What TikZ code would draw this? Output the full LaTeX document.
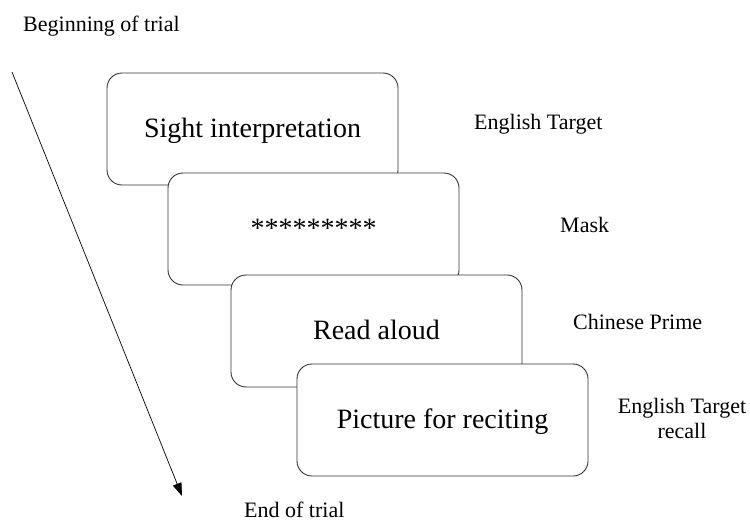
\documentclass[tikz,border=0pt]{standalone}
\usepackage{fontspec}
\setmainfont{Liberation Serif}
\usetikzlibrary{arrows.meta,shapes}
\tikzstyle{screen} = [draw=black!80, line width=0.9pt, fill=white, rounded corners=15pt, minimum width=291pt, minimum height=112pt, text height=20pt, text depth=4pt, inner sep=0pt, font=\fontsize{28}{32}\selectfont]
\tikzstyle{caption} = [inner sep=0pt, font=\fontsize{22}{25}\selectfont]
\tikzstyle{timeline} = [draw, line width=0.7pt, -{Triangle[length=13pt, width=9pt]}]

\begin{document}
\begin{tikzpicture}[x=1pt, y=-1pt]
    \useasboundingbox (0,0) rectangle (750,522);
    % Draw the trial screens.
    \node [screen] (sight) at (252.5, 129) {Sight interpretation};
    \node [screen] (mask)  at (313.5, 229) {*********};
    \node [screen] (read)  at (376.5, 331) {Read aloud};
    \node [screen] (pict)  at (442.5, 420) {Picture for reciting};
    % Captions beside the screens.
    \node [caption, anchor=base west] (target) at (474, 129) {English Target};
    \node [caption, anchor=base west] (masktxt) at (560, 232) {Mask};
    \node [caption, anchor=base west] (prime) at (573, 329) {Chinese Prime};
    \node [caption, anchor=north, align=center] (recall) at (682, 398) {English Target\\recall};
    % Time runs down the left side.
    \node [caption, anchor=base west] (begin) at (23, 31) {Beginning of trial};
    \node [caption, anchor=base west] (end) at (244, 517) {End of trial};
    \coordinate (start) at (12, 72);
    \coordinate (stop) at (182, 496);
    \path [timeline] (start) -- (stop);
\end{tikzpicture}
\end{document}
